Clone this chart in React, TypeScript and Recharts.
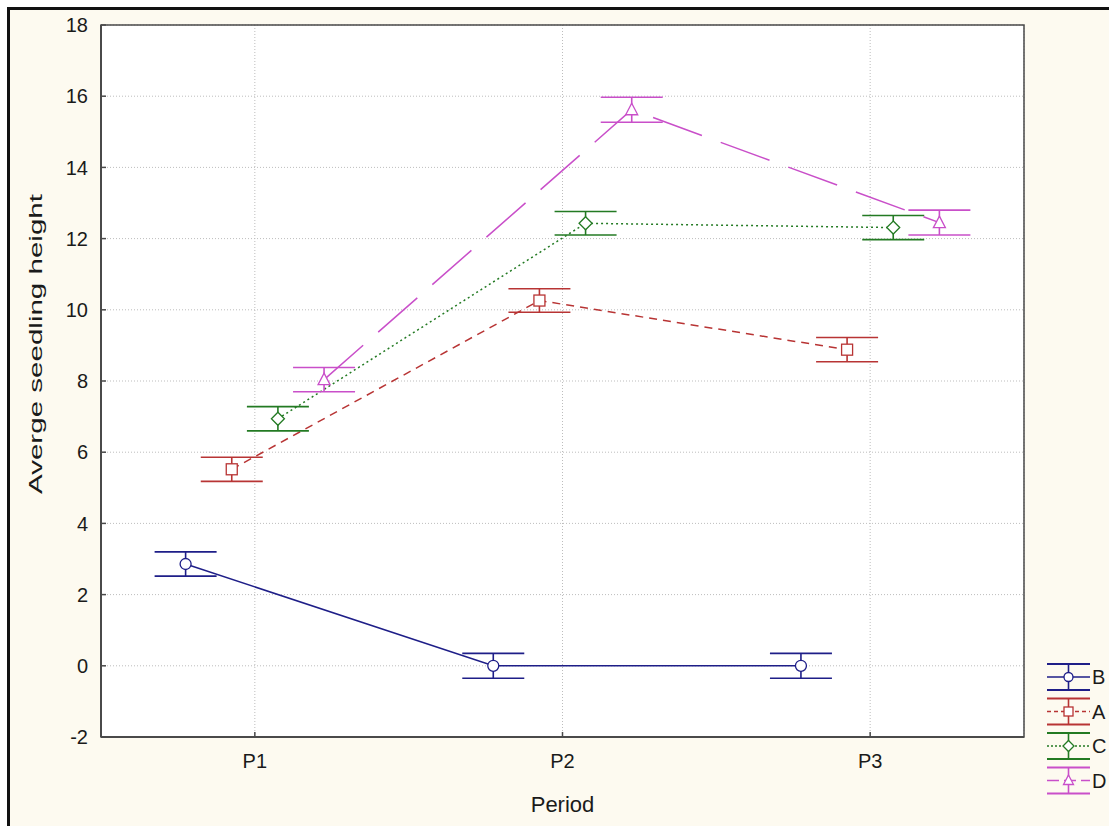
import { LineChart, Line, XAxis, YAxis, CartesianGrid, ErrorBar, ReferenceArea } from 'recharts'

// periods on the x axis and the y ticks
const periods = ['P1', 'P2', 'P3']
const yTicks = [-2, 0, 2, 4, 6, 8, 10, 12, 14, 16, 18]

// group means per period and their error half-widths
const groupNames = ['B', 'A', 'C', 'D']
const meansB = [2.86, 0.0, 0.0]
const errB = [0.34, 0.35, 0.35]
const meansA = [5.52, 10.26, 8.88]
const errA = [0.34, 0.33, 0.34]
const meansC = [6.94, 12.43, 12.31]
const errC = [0.34, 0.33, 0.34]
const meansD = [8.04, 15.62, 12.45]
const errD = [0.34, 0.35, 0.35]

type Shape = 'circle' | 'square' | 'diamond' | 'triangle'

const looks: Record<string, { color: string; dash?: string; keyDash?: string; shape: Shape; shift: number }> = {
  B: { color: '#1e1e88', shape: 'circle', shift: -0.225 },
  A: { color: '#b83434', dash: '8 6', keyDash: '4 3', shape: 'square', shift: -0.075 },
  C: { color: '#237a23', dash: '2 3', keyDash: '2 2', shape: 'diamond', shift: 0.075 },
  D: { color: '#c94fc9', dash: '52 20', keyDash: '12 5', shape: 'triangle', shift: 0.225 },
}

const groupValues: Record<string, { means: number[]; errs: number[] }> = {
  B: { means: meansB, errs: errB },
  A: { means: meansA, errs: errA },
  C: { means: meansC, errs: errC },
  D: { means: meansD, errs: errD },
}

// dodge the groups side by side inside each period
const rowsFor = (name: string) =>
  periods.map((_, i) => ({
    x: i + 1 + looks[name].shift,
    y: groupValues[name].means[i],
    err: groupValues[name].errs[i],
  }))

const FONT = '"Liberation Sans", Arial, sans-serif'
const AXIS = '#4a4a4a'

function Marker({ cx, cy, shape, color, s = 6 }: { cx: number; cy: number; shape: Shape; color: string; s?: number }) {
  const common = { fill: '#ffffff', stroke: color, strokeWidth: 1.3 }
  if (shape === 'circle') return <circle cx={cx} cy={cy} r={s - 0.5} {...common} />
  if (shape === 'square') return <rect x={cx - s + 0.5} y={cy - s + 0.5} width={2 * s - 1} height={2 * s - 1} {...common} />
  if (shape === 'diamond')
    return <polygon points={`${cx},${cy - s - 0.5} ${cx + s + 0.5},${cy} ${cx},${cy + s + 0.5} ${cx - s - 0.5},${cy}`} {...common} />
  return <polygon points={`${cx},${cy - s - 0.5} ${cx + s},${cy + s - 1} ${cx - s},${cy + s - 1}`} {...common} />
}

function YTick(props: any) {
  const { x, y, payload } = props
  return (
    <g>
      <text x={x} y={y} dy="0.36em" textAnchor="end" fontSize={20} fontFamily={FONT} fill="#1a1a1a">
        {payload.value}
      </text>
      <line x1={x + 13} x2={x + 18} y1={y} y2={y} stroke={AXIS} strokeWidth={1.5} />
    </g>
  )
}

function XTick(props: any) {
  const { x, y, payload } = props
  return (
    <g>
      <text x={x} y={y} dy="0.71em" textAnchor="middle" fontSize={20} fontFamily={FONT} fill="#1a1a1a">
        {periods[Math.round(payload.value) - 1]}
      </text>
      <line x1={x} x2={x} y1={y - 17} y2={y - 22} stroke={AXIS} strokeWidth={1.5} />
    </g>
  )
}

function YTitle(props: any) {
  const vb = props.viewBox
  const cx = vb.x - 6
  const cy = vb.y + vb.height / 2 - 37
  return (
    <text
      x={cx}
      y={cy}
      transform={`rotate(-90 ${cx} ${cy})`}
      textAnchor="middle"
      dominantBaseline="central"
      fontSize={19}
      fontFamily={FONT}
      fill="#1a1a1a"
      textLength={300}
      lengthAdjust="spacingAndGlyphs"
    >
      Averge seedling height
    </text>
  )
}

function XTitle(props: any) {
  const vb = props.viewBox
  return (
    <text x={vb.x + vb.width / 2} y={vb.y + 75} textAnchor="middle" fontSize={22} fontFamily={FONT} fill="#1a1a1a">
      Period
    </text>
  )
}

// key box: error-bar glyph with the group's line style and marker
function GroupLegend() {
  return (
    <svg width={64} height={150} style={{ position: 'absolute', left: 1035, top: 645, overflow: 'visible' }}>
      {groupNames.map((name, i) => {
        const cy = 22 + i * 34.5
        const { color, keyDash, shape } = looks[name]
        return (
          <g key={name}>
            <line x1={2} x2={45} y1={cy - 13} y2={cy - 13} stroke={color} strokeWidth={2} />
            <line x1={2} x2={45} y1={cy + 13} y2={cy + 13} stroke={color} strokeWidth={2} />
            <line x1={23.5} x2={23.5} y1={cy - 13} y2={cy + 13} stroke={color} strokeWidth={1.6} />
            <line x1={2} x2={45} y1={cy} y2={cy} stroke={color} strokeWidth={1.3} strokeDasharray={keyDash} />
            <Marker cx={23.5} cy={cy} shape={shape} color={color} s={5} />
            <text x={47} y={cy} dominantBaseline="central" fontSize={20} fontFamily={FONT} fill="#1a1a1a">
              {name}
            </text>
          </g>
        )
      })}
    </svg>
  )
}

export default function App() {
  return (
    <div
      style={{
        position: 'relative',
        marginLeft: 7,
        marginTop: 7,
        width: 1102,
        height: 819,
        boxSizing: 'border-box',
        borderTop: '3px solid #111',
        borderLeft: '3px solid #111',
        background: '#fdfaf0',
      }}
    >
      <style>{'body{margin:0;overflow:hidden}'}</style>
      <LineChart width={1099} height={816} margin={{ top: 15, right: 85, bottom: 29, left: 31 }}>
        <CartesianGrid stroke="#bdbdbd" strokeDasharray="1 2" fill="#ffffff" fillOpacity={1} />
        <XAxis
          dataKey="x"
          type="number"
          domain={[0.5, 3.5]}
          ticks={[1, 2, 3]}
          allowDataOverflow
          height={60}
          tickSize={0}
          tickMargin={17}
          tick={<XTick />}
          axisLine={{ stroke: AXIS, strokeWidth: 2 }}
          label={<XTitle />}
        />
        <YAxis
          type="number"
          domain={[-2, 18]}
          ticks={yTicks}
          allowDataOverflow
          width={60}
          tickSize={0}
          tickMargin={13}
          tick={<YTick />}
          axisLine={{ stroke: AXIS, strokeWidth: 2 }}
          label={<YTitle />}
        />
        <ReferenceArea x1={0.5} x2={3.5} y1={-2} y2={18} fill="none" stroke={AXIS} strokeWidth={1.5} />
        {groupNames.map((name) => {
          const { color, dash, shape } = looks[name]
          return (
            <Line
              key={name}
              name={name}
              data={rowsFor(name)}
              dataKey="y"
              type="linear"
              stroke={color}
              strokeWidth={1.5}
              strokeDasharray={dash}
              isAnimationActive={false}
              activeDot={false}
              dot={(p: any) => <Marker key={`${name}-${p.index}`} cx={p.cx} cy={p.cy} shape={shape} color={color} />}
            >
              <ErrorBar dataKey="err" direction="y" width={31} stroke={color} strokeWidth={1.6} />
            </Line>
          )
        })}
      </LineChart>
      <GroupLegend />
    </div>
  )
}
